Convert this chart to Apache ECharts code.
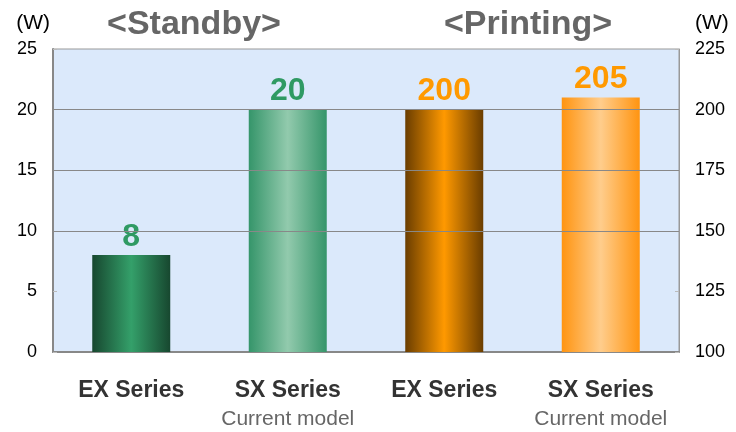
<!DOCTYPE html>
<html>
<head>
<meta charset="utf-8">
<script src="https://cdn.jsdelivr.net/npm/echarts@6/dist/echarts.min.js"></script>
<style>
html,body{margin:0;padding:0;background:#fff;}
#chart{width:736px;height:432px;}
</style>
</head>
<body>
<div id="chart"></div>
<script>
const categories = ['EX Series', 'SX Series', 'EX Series', 'SX Series'];
const subLabels = ['', 'Current model', '', 'Current model'];
const standbyValues = [8, 20, null, null];
const printingValues = [null, null, 200, 205];
const groupTitles = ['<Standby>', '<Printing>'];
const gridValues = [10, 15, 20];
const leftAxisRange = [0, 25, 5];
const rightAxisRange = [100, 225, 25];

const grad = (edge, mid) => new echarts.graphic.LinearGradient(0, 0, 1, 0, [
  {offset: 0, color: edge}, {offset: 0.5, color: mid}, {offset: 1, color: edge}
]);
const barStyles = [
  grad('#17472f', '#34a06a'),
  grad('#35956a', '#92caad'),
  grad('#6a3d00', '#ff9900'),
  grad('#ff9410', '#ffcd8c')
];

const mk = (vals) => vals.map((v, i) => v == null ? '-' : {value: v, itemStyle: {color: barStyles[i]}});

const titleFont = 'bold 34px "Liberation Sans", Arial, sans-serif';
const chart = echarts.init(document.getElementById('chart'));
chart.setOption({
  animation: false,
  backgroundColor: '#fff',
  textStyle: {fontFamily: 'Liberation Sans, Arial, sans-serif'},
  graphic: [
    {type: 'text', x: 194, y: 8, style: {text: groupTitles[0], textAlign: 'center', textVerticalAlign: 'top', fill: '#666', font: titleFont}},
    {type: 'text', x: 528, y: 8, style: {text: groupTitles[1], textAlign: 'center', textVerticalAlign: 'top', fill: '#666', font: titleFont}}
  ],
  grid: {left: 53, right: 57, top: 49, bottom: 80, show: true, backgroundColor: '#dbe9fb', borderColor: '#999', borderWidth: 1},
  xAxis: {
    type: 'category',
    data: categories,
    axisLine: {lineStyle: {color: '#888', width: 2}},
    axisTick: {show: false},
    axisLabel: {
      margin: 24,
      interval: 0,
      formatter: (v, i) => subLabels[i] ? '{a|' + v + '}\n{b|' + subLabels[i] + '}' : '{a|' + v + '}',
      rich: {
        a: {fontSize: 23, fontWeight: 'bold', color: '#333', lineHeight: 29, fontFamily: 'Liberation Sans'},
        b: {fontSize: 21, color: '#666', lineHeight: 29, fontFamily: 'Liberation Sans'}
      }
    }
  },
  yAxis: [
    {
      type: 'value', min: leftAxisRange[0], max: leftAxisRange[1], interval: leftAxisRange[2],
      name: '(W)', nameLocation: 'end', nameGap: 15,
      nameTextStyle: {color: '#000', fontSize: 21, align: 'right', padding: [0, 3, 0, 0]},
      axisLine: {show: true, lineStyle: {color: '#888', width: 2}},
      axisTick: {show: true, inside: true, length: 4, lineStyle: {color: '#bbb'}},
      splitLine: {show: false},
      axisLabel: {color: '#000', fontSize: 18, margin: 16}
    },
    {
      type: 'value', min: rightAxisRange[0], max: rightAxisRange[1], interval: rightAxisRange[2],
      name: '(W)', nameLocation: 'end', nameGap: 15,
      nameTextStyle: {color: '#000', fontSize: 21, align: 'left', padding: [0, 0, 0, 16]},
      axisLine: {show: true, lineStyle: {color: '#999', width: 1}},
      axisTick: {show: true, inside: true, length: 4, lineStyle: {color: '#bbb'}},
      splitLine: {show: false},
      axisLabel: {color: '#000', fontSize: 18, margin: 16}
    }
  ],
  series: [
    {
      type: 'bar', yAxisIndex: 0, barWidth: 78, barGap: '-100%',
      data: mk(standbyValues),
      label: {show: true, position: 'top', distance: 2, color: '#2f9a63', fontSize: 32, fontWeight: 'bold', fontFamily: 'Liberation Sans'},
      markLine: {
        silent: true, symbol: 'none', label: {show: false},
        lineStyle: {color: '#888', width: 1, type: 'solid'},
        data: gridValues.map(v => ({yAxis: v}))
      },
      z: 3
    },
    {
      type: 'bar', yAxisIndex: 1, barWidth: 78, barGap: '-100%',
      data: mk(printingValues),
      label: {show: true, position: 'top', distance: 2, color: '#ff9900', fontSize: 32, fontWeight: 'bold', fontFamily: 'Liberation Sans'},
      z: 3
    }
  ]
});
</script>
</body>
</html>
